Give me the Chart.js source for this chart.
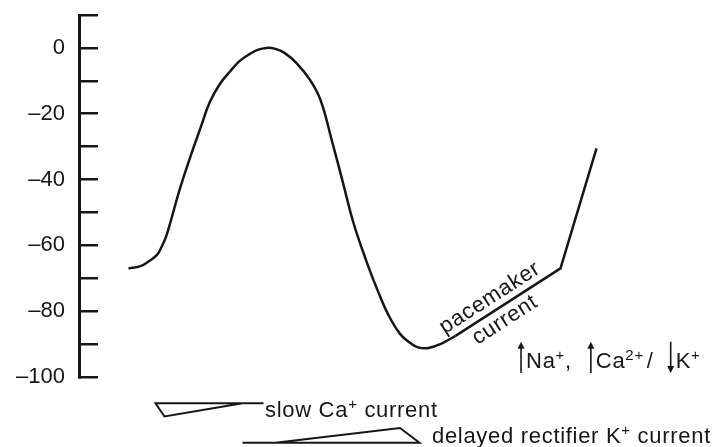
<!DOCTYPE html>
<html>
<head>
<meta charset="utf-8">
<script src="https://cdn.jsdelivr.net/npm/chart.js@4.4.1/dist/chart.umd.min.js"></script>
<style>
  html, body { margin: 0; background: #fff; }
  #wrap { width: 712px; height: 447px; }
</style>
</head>
<body>
<div id="wrap"><canvas id="apChart"></canvas></div>
<script>
// Action potential: time in ms, membrane potential in mV
const apTime    = [33, 41, 47, 52, 55, 58, 61, 67, 74, 81, 87, 94, 101, 107, 114, 119, 125, 131, 137, 145, 154, 161, 169, 176, 183, 192, 199, 206, 214, 221, 226, 233, 241, 251];
const apVoltage = [-67, -66.3, -64.7, -62.9, -60.5, -57.4, -52.9, -43.2, -33.4, -24.3, -16.7, -10.9, -7, -4, -1.8, -0.6, 0, -0.3, -1.5, -4.6, -9.7, -15.8, -28.9, -41, -53.2, -65.3, -73.6, -80.9, -86.9, -89.7, -91, -91.2, -90, -87.5];

// pacemaker ramp, then the upstroke of the next beat (straight pieces)
const rampTime    = [251, 321, 345];
const rampVoltage = [-87.5, -67, -30.5];

// current wedges sketched underneath the trace
const caTime  = [123, 51, 57, 109];
const caLevel = [-108, -108, -112, -108];
const kTime   = [109, 227, 214, 131];
const kLevel  = [-120, -120, -115.5, -120];

const yMin = -100, yMax = 10, yStep = 10;
const labelledTicks = [0, -20, -40, -60, -80, -100];

const ink = '#161616';
const fontFamily = '"Liberation Sans", Arial, Helvetica, sans-serif';

function zip(xs, ys) {
    return xs.map((v, i) => ({ x: v, y: ys[i] }));
}

// draws a row of text pieces: plain text, superscripts, gaps and thin arrows
function drawRich(ctx, x, y, parts, size) {
    let cx = x;
    parts.forEach(p => {
        if (p.gap) {
            cx += p.gap;
        } else if (p.arrow) {
            const top = y - size * 1.2, bottom = y + size * 0.22;
            const ax = cx + 3;
            ctx.lineWidth = 1.6;
            ctx.beginPath();
            if (p.arrow === 'up') {
                ctx.moveTo(ax, bottom); ctx.lineTo(ax, top + 6);
            } else {
                ctx.moveTo(ax, top); ctx.lineTo(ax, bottom - 6);
            }
            ctx.stroke();
            ctx.beginPath();
            if (p.arrow === 'up') {
                ctx.moveTo(ax - 3.5, top + 7); ctx.lineTo(ax, top); ctx.lineTo(ax + 3.5, top + 7);
            } else {
                ctx.moveTo(ax - 3.5, bottom - 7); ctx.lineTo(ax, bottom); ctx.lineTo(ax + 3.5, bottom - 7);
            }
            ctx.closePath();
            ctx.fill();
            cx += 8;
        } else if (p.sup) {
            ctx.font = `${Math.round(size * 0.66)}px ${fontFamily}`;
            ctx.fillText(p.text, cx, y - size * 0.38);
            cx += ctx.measureText(p.text).width;
        } else {
            ctx.font = `${size}px ${fontFamily}`;
            ctx.fillText(p.text, cx, y);
            cx += ctx.measureText(p.text).width;
        }
    });
}

const notesPlugin = {
    id: 'notes',
    afterDatasetsDraw(chart) {
        const { ctx, scales: { x, y } } = chart;
        const size = 22;
        ctx.save();
        ctx.fillStyle = ink;
        ctx.strokeStyle = ink;
        ctx.letterSpacing = '0.7px';

        // labels laid along the pacemaker ramp
        const angle = Math.atan2(
            y.getPixelForValue(rampVoltage[1]) - y.getPixelForValue(rampVoltage[0]),
            x.getPixelForValue(rampTime[1]) - x.getPixelForValue(rampTime[0])
        );
        ctx.font = `${size}px ${fontFamily}`;
        ctx.textAlign = 'center';
        ctx.textBaseline = 'middle';
        [['pacemaker', 274, -76], ['current', 284, -82.7]].forEach(([txt, t, v]) => {
            ctx.save();
            ctx.translate(x.getPixelForValue(t), y.getPixelForValue(v));
            ctx.rotate(angle);
            ctx.fillText(txt, 0, 0);
            ctx.restore();
        });

        ctx.textAlign = 'left';
        ctx.textBaseline = 'alphabetic';
        drawRich(ctx, x.getPixelForValue(292.7), y.getPixelForValue(-97.3), [
            { arrow: 'up' }, { text: 'Na' }, { text: '+', sup: true }, { text: ',' }, { gap: 16 },
            { arrow: 'up' }, { text: 'Ca' }, { text: '2+', sup: true }, { gap: 3 }, { text: '/' }, { gap: 14 },
            { arrow: 'down' }, { text: 'K' }, { text: '+', sup: true }
        ], size);
        drawRich(ctx, x.getPixelForValue(124), y.getPixelForValue(-112.2), [
            { text: 'slow Ca' }, { text: '+', sup: true }, { text: ' current' }
        ], size);
        drawRich(ctx, x.getPixelForValue(235.3), y.getPixelForValue(-120.1), [
            { text: 'delayed rectifier K' }, { text: '+', sup: true }, { text: ' current' }
        ], size);
        ctx.restore();
    }
};

const traceStyle = {
    borderColor: ink,
    borderWidth: 2.5,
    pointRadius: 0,
    fill: false
};

new Chart(document.getElementById('apChart'), {
    type: 'line',
    data: {
        datasets: [
            Object.assign({ data: zip(apTime, apVoltage), tension: 0.4 }, traceStyle),
            Object.assign({ data: zip(rampTime, rampVoltage), tension: 0 }, traceStyle),
            Object.assign({ data: zip(caTime, caLevel), tension: 0, clip: false }, traceStyle, { borderWidth: 2 }),
            Object.assign({ data: zip(kTime, kLevel), tension: 0, clip: false }, traceStyle, { borderWidth: 2 })
        ]
    },
    options: {
        responsive: true,
        maintainAspectRatio: false,
        animation: false,
        events: [],
        layout: { padding: { left: 16, right: 33, top: 15, bottom: 70 } },
        plugins: {
            legend: { display: false },
            tooltip: { enabled: false }
        },
        scales: {
            x: {
                type: 'linear',
                min: 0,
                max: 400,
                display: false
            },
            y: {
                type: 'linear',
                min: yMin,
                max: yMax,
                border: { display: true, color: ink, width: 3 },
                grid: {
                    drawOnChartArea: false,
                    drawTicks: true,
                    tickLength: -19,
                    color: ink,
                    lineWidth: 2.5
                },
                ticks: {
                    stepSize: yStep,
                    padding: 33,
                    color: ink,
                    font: { family: fontFamily, size: 22 },
                    callback: v => labelledTicks.includes(v) ? (v < 0 ? '\u2013' + Math.abs(v) : String(v)) : ''
                },
                // ticks point inward, so keep the axis box tight and drop label padding at the ends
                afterFit(scale) {
                    scale.width = 63;
                    scale.paddingTop = 0;
                    scale.paddingBottom = 0;
                }
            }
        }
    },
    plugins: [notesPlugin]
});
</script>
</body>
</html>
